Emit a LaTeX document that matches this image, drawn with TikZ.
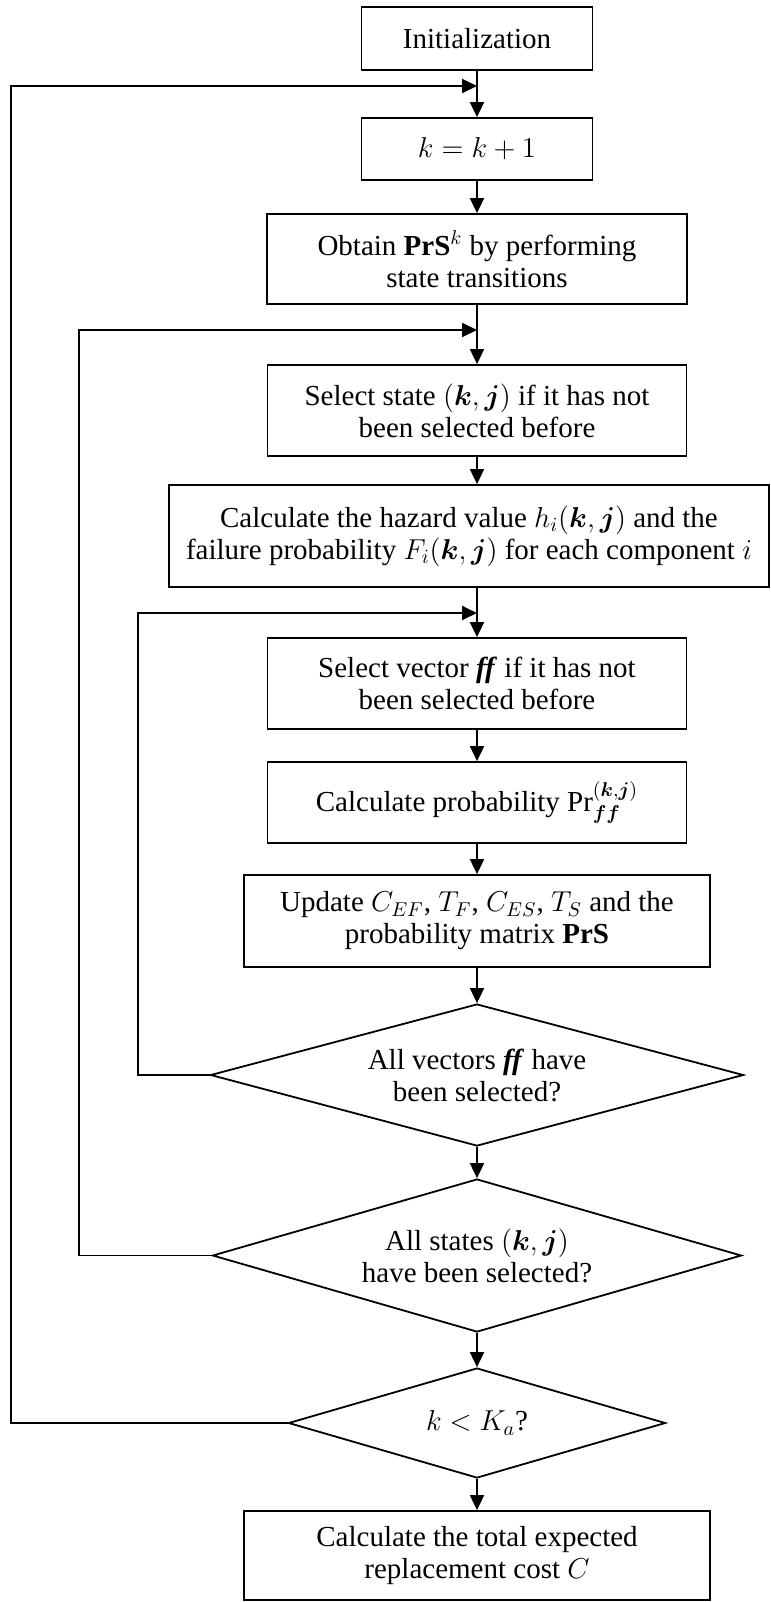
\documentclass[tikz,border=0pt]{standalone}
\usepackage{amsmath,bm}
\usepackage{fontspec}
\setmainfont{Liberation Serif}
\usetikzlibrary{arrows.meta,shapes.geometric}

\begin{document}
\begin{tikzpicture}[x=0.5pt, y=-0.5pt, line width=0.9pt,
		box/.style={draw, rectangle, align=center, inner sep=0pt, font=\fontsize{14.5}{16}\selectfont},
		decision/.style={draw, diamond, align=center, inner sep=0pt, font=\fontsize{14.5}{16}\selectfont},
		arr/.style={-{Triangle[length=7.5pt, width=7pt]}}]
			%%%%% START %%%%%
			
			\useasboundingbox (0, 0) rectangle (771, 1602);
			
			\node[box, minimum width=115.5pt, minimum height=31.5pt] (init) at (477, 38.5) {Initialization};
			\node[box, minimum width=115.5pt, minimum height=31pt] (kk) at (477, 149) {$k = k + 1$};
			\node[box, minimum width=210pt, minimum height=45pt] (obtain) at (477, 259) {Obtain $\mathbf{PrS}^k$ by performing\\state transitions};
			\node[box, minimum width=209.5pt, minimum height=45.5pt] (selst) at (477, 410.5) {Select state $(\bm{k},\bm{j})$ if it has not\\been selected before};
			\node[box, minimum width=300pt, minimum height=51pt] (hazard) at (469, 536) {Calculate the hazard value $h_i(\bm{k},\bm{j})$ and the\\failure probability $F_i(\bm{k},\bm{j})$ for each component $i$};
			\node[box, minimum width=209.5pt, minimum height=45.5pt] (selvec) at (477, 683.5) {Select vector \textbf{\textit{ff}} if it has not\\been selected before};
			\node[box, minimum width=209.5pt, minimum height=40.5pt] (calcpr) at (477, 802.5) {Calculate probability $\mathrm{Pr}^{(\bm{k},\bm{j})}_{\bm{ff}}$};
			\node[box, minimum width=233pt, minimum height=46pt] (update) at (477, 921) {Update $C_{EF}$, $T_F$, $C_{ES}$, $T_S$ and the\\probability matrix $\mathbf{PrS}$};
			
			\node[decision, aspect=3.75, minimum width=266.5pt, minimum height=71pt] (allvec) at (477, 1075) {All vectors \textbf{\textit{ff}} have\\been selected?};
			\node[decision, aspect=3.46, minimum width=264.5pt, minimum height=76.5pt] (allst) at (477, 1255.5) {All states $(\bm{k},\bm{j})$\\have been selected?};
			\node[decision, aspect=3.43, minimum width=188.5pt, minimum height=55pt] (klim) at (477, 1423) {$k < K_a$?};
			
			\node[box, minimum width=233pt, minimum height=44.5pt] (total) at (477, 1555.5) {Calculate the total expected\\replacement cost $C$};
			
			% joints of the loops
			\coordinate (jA) at (477, 86);
			\coordinate (jB) at (477, 330);
			\coordinate (jC) at (477, 613);
			\coordinate (cA) at (11, 86);
			\coordinate (cB) at (79, 330);
			\coordinate (cC) at (138, 613);
			
			\draw[arr] (init) -- (kk);
			\draw[arr] (kk) -- (obtain);
			\draw[arr] (obtain) -- (selst);
			\draw[arr] (selst) -- (selst |- hazard.north);
			\draw[arr] (hazard.south -| selvec) -- (selvec);
			\draw[arr] (selvec) -- (calcpr);
			\draw[arr] (calcpr) -- (update);
			\draw[arr] (update) -- (allvec);
			\draw[arr] (allvec) -- (allst);
			\draw[arr] (allst) -- (klim);
			\draw[arr] (klim) -- (total);
			
			\draw[arr] (allvec.west) -| (cC) -- (jC);
			\draw[arr] (allst.west) -| (cB) -- (jB);
			\draw[arr] (klim.west) -| (cA) -- (jA);
			
			%%%%% END %%%%%
		\end{tikzpicture}
\end{document}
